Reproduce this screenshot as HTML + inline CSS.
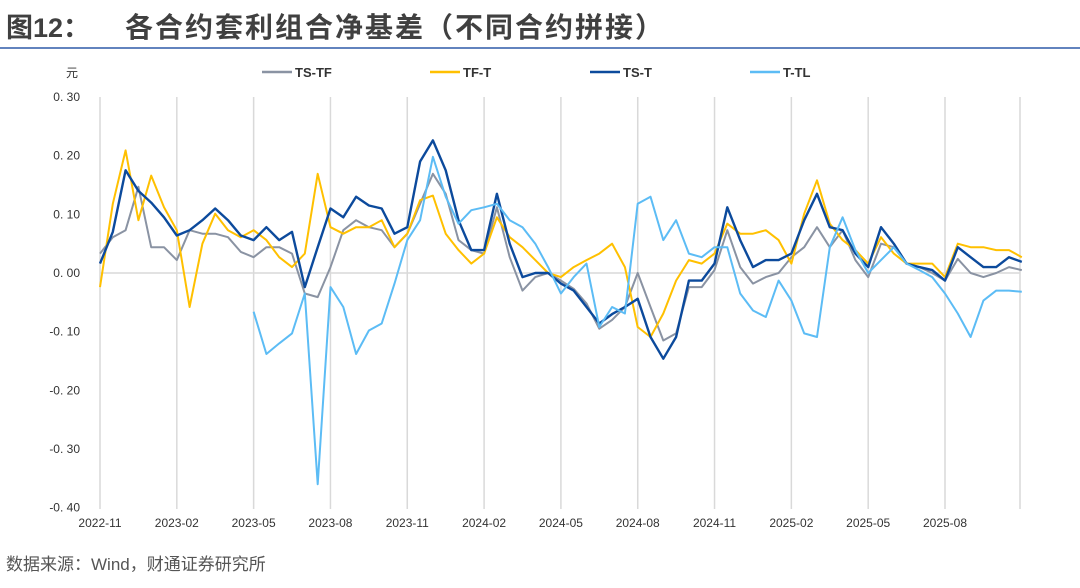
<!DOCTYPE html>
<html><head><meta charset="utf-8"><style>
body{margin:0;width:1080px;height:583px;background:#fff;font-family:"Liberation Sans","Noto Sans CJK SC",sans-serif;overflow:hidden}
</style></head><body>
<svg id="c" width="1080" height="583" xmlns="http://www.w3.org/2000/svg">
<text x="6" y="37" font-size="27" font-weight="bold" fill="#404040" font-family="Liberation Sans,Noto Sans CJK SC,sans-serif">图12：</text>
<text x="125" y="37" font-size="28" font-weight="bold" letter-spacing="2" fill="#404040" font-family="Liberation Sans,Noto Sans CJK SC,sans-serif">各合约套利组合净基差（不同合约拼接）</text>
<line x1="0" y1="48" x2="1080" y2="48" stroke="#2f5aa8" stroke-width="1.5"/>
<text x="66" y="77" font-size="12" fill="#333" font-family="Liberation Sans,Noto Sans CJK SC,sans-serif">元</text>
<text x="6" y="570" font-size="17" fill="#555" font-family="Liberation Sans,Noto Sans CJK SC,sans-serif">数据来源：Wind，财通证券研究所</text>
<g id="grid"></g><g id="axes"></g><g id="series"></g><g id="legend"></g>
</svg>
<script>
const xTicks=["2022-11","2023-02","2023-05","2023-08","2023-11","2024-02","2024-05","2024-08","2024-11","2025-02","2025-05","2025-08"];
const yTicks=[0.30,0.20,0.10,0.00,-0.10,-0.20,-0.30,-0.40];
const seriesNames=["TS-TF","TF-T","TS-T","T-TL"];
const tsTf=[3.3,6.1,7.3,14.7,4.4,4.4,2.2,7.3,6.7,6.7,6.1,3.6,2.7,4.4,4.4,3.3,-3.5,-4.1,1,7.3,9,7.8,7.3,4.4,6.7,11.8,16.9,13.5,5.6,3.9,3.3,11.2,2.7,-3,-0.7,0,-1.3,-2.7,-5.2,-9.5,-8,-5.8,0,-5.8,-11.5,-10.3,-2.4,-2.4,0.5,7.3,1,-1.8,-0.7,0,2.7,4.4,7.8,4.4,7.3,2.2,-0.7,5,4.4,1.6,1,0,-1.3,2.4,0,-0.7,0,1,0.5];
const tfT=[-2.4,11.8,20.9,9,16.6,11.2,7.3,-5.8,5,10.1,7.3,6.1,7.3,5.6,2.7,1,3.3,16.9,7.8,6.7,7.8,7.8,9,4.4,6.7,12.4,13.2,6.7,3.9,1.6,3.3,9.5,6.1,4.4,2.2,0,-0.7,1,2.2,3.3,5,1,-9.2,-10.9,-6.9,-1.3,2.2,1.6,3.3,8.4,6.7,6.7,7.3,5.6,1.6,10.1,15.8,8.4,5.6,3.9,1.6,6.1,3.3,1.6,1.6,1.6,-0.7,5,4.4,4.4,3.9,3.9,2.7];
const tsT=[1.6,7,17.5,14,12,9.5,6.4,7.3,9,11,9,6.4,5.6,7.8,5.6,7,-2.4,4.4,11,9.5,13,11.5,11,6.7,7.8,19,22.6,17.5,9,3.9,3.9,13.5,5,-0.7,0,0,-1.8,-3,-5.8,-8.6,-7,-5.8,-4.4,-10.9,-14.6,-10.9,-1.3,-1.3,1.6,11.2,5.6,1,2.2,2.2,3.3,9,13.5,7.8,7.3,3.3,1,7.8,5,1.6,1,0.5,-1.3,4.4,2.7,1,1,2.7,1.9];
const tTl=[null,null,null,null,null,null,null,null,null,null,null,null,-6.6,-13.8,-12,-10.3,-3.5,-36,-2.4,-5.8,-13.8,-9.8,-8.6,-1.8,5.6,9,19.8,13,8.4,10.7,11.2,11.8,9,7.8,5,1,-3.5,-0.7,1.6,-9.2,-5.8,-6.9,11.8,13,5.6,9,3.3,2.7,4.4,4.4,-3.5,-6.4,-7.5,-1.3,-4.7,-10.3,-10.9,4.4,9.5,3.9,0,2.2,4.4,1.6,0.5,-0.7,-3.5,-6.9,-10.9,-4.7,-3,-3,-3.2];
const colors=["#8a93a3","#ffc000","#0c4a9c","#5cbcf5"];
const NS="http://www.w3.org/2000/svg";
const X=m=>100+m*25.606, Y=v=>273-v*586.7;
function mk(t,a,p){const e=document.createElementNS(NS,t);for(const k in a)e.setAttribute(k,a[k]);p.appendChild(e);return e;}
const grid=document.getElementById('grid'),axes=document.getElementById('axes');
xTicks.forEach((t,i)=>{
 const l=mk('line',{x1:X(i*3),x2:X(i*3),y1:97,y2:509,stroke:'#d9d9d9','stroke-width':1.5},grid);
 
 
 const tx=mk('text',{x:X(i*3),y:527,'font-size':12,'text-anchor':'middle',fill:'#333'},axes);tx.textContent=t;
 
 
});
const rl=mk('line',{x1:1020,x2:1020,y1:97,y2:509,stroke:'#d9d9d9','stroke-width':1.5},grid);


yTicks.forEach(v=>{
 const tx=mk('text',{x:80,y:Y(v)+4,'font-size':12,'text-anchor':'end',fill:'#333'},axes);
 tx.textContent=v<0?"-"+Math.abs(v).toFixed(2).replace('0.','0. '):v.toFixed(2).replace('.','. ');
 
 
});
const zl=mk('line',{x1:100,x2:1020,y1:Y(0),y2:Y(0),stroke:'#d9d9d9','stroke-width':1.5},grid);


const sg=document.getElementById('series');
[tsTf,tfT,tsT,tTl].forEach((arr,si)=>{
 let d='',pen=false;
 arr.forEach((v,i)=>{if(v===null){pen=false;return;}d+=(pen?'L':'M')+X(i*0.5).toFixed(1)+','+Y(v/100).toFixed(1);pen=true;});
 const p=mk('path',{d:d,fill:'none',stroke:colors[si],'stroke-width':si==2?2.4:2,'stroke-linejoin':'round'},sg);
 
 
});
const lg=document.getElementById('legend');const lx=[262,430,590,750];
seriesNames.forEach((n,i)=>{
 const l=mk('line',{x1:lx[i],x2:lx[i]+30,y1:72,y2:72,stroke:colors[i],'stroke-width':2.5},lg);
 
 
 const t=mk('text',{x:lx[i]+33,y:77,'font-size':13,'font-weight':'bold',fill:'#333'},lg);t.textContent=n;
 
 
});
</script>
</body></html>
